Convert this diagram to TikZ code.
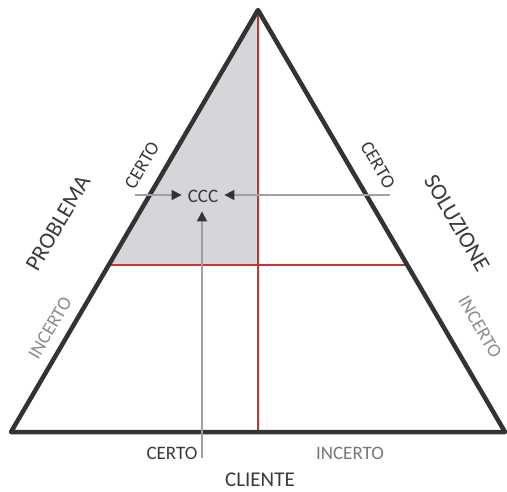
\documentclass[tikz,border=0pt]{standalone}
\usepackage{fontspec}
\setmainfont{Carlito}
\usetikzlibrary{arrows.meta}
\definecolor{edge}{HTML}{333333}
\definecolor{redl}{HTML}{C8342C}
\definecolor{graypatch}{HTML}{D5D6D9}
\definecolor{txt}{HTML}{3A3A3A}
\definecolor{ltxt}{HTML}{8C8C8C}
\definecolor{arr}{HTML}{A0A0A0}
\tikzset{
  lbl/.style={text=txt, font=\fontsize{19}{19}\selectfont, inner sep=0pt},
  llbl/.style={text=ltxt, font=\fontsize{19}{19}\selectfont, inner sep=0pt},
  title/.style={text=txt, font=\fontsize{23}{23}\selectfont, inner sep=0pt},
  conn/.style={draw=arr, line width=1.3pt, -{Triangle[length=10pt,width=10pt,color=edge]}},
}
\begin{document}
\begin{tikzpicture}[x=1pt,y=-1pt]
\useasboundingbox (0,0) rectangle (507,492);
\coordinate (A) at (258,10);
\coordinate (BL) at (11,432);
\coordinate (BR) at (505,432);
\coordinate (ML) at (109,265);
\coordinate (MR) at (407,265);
\coordinate (MC) at (258,265);
\coordinate (BC) at (258,432);
% shaded region
\fill[graypatch] (A) -- (MC) -- (ML) -- cycle;
% red lines
\draw[redl, line width=2pt] (A) -- (BC);
\draw[redl, line width=2pt] (ML) -- (MR);
% triangle
\draw[edge, line width=4.5pt, line join=round] (A) -- (BR) -- (BL) -- cycle;
% CCC and arrows
\node[text=txt, font=\fontsize{19}{19}\selectfont, inner xsep=6pt, inner ysep=9pt] (ccc) at (203,196) {CCC};
\coordinate (la) at (135,195);
\coordinate (ra) at (390,195);
\coordinate (ba) at (202,458);
\draw[conn] (la) -- (la -| ccc.west);
\draw[conn] (ra) -- (ra -| ccc.east);
\draw[conn] (ba) -- (ba |- ccc.south);
% side labels
\node[lbl, rotate=59.66] (lc) at (142,165) {CERTO};
\node[title, rotate=59.66] (pb) at (58,223) {PROBLEMA};
\node[llbl, rotate=59.66] (li) at (50,328) {INCERTO};
\node[lbl, rotate=-59.66] (rc) at (378,165) {CERTO};
\node[title, rotate=-59.66] (sl) at (457,223) {SOLUZIONE};
\node[llbl, rotate=-59.66] (ri) at (480,327) {INCERTO};
% bottom labels
\node[lbl] (bc) at (172,453) {CERTO};
\node[llbl, text=ltxt!85!black] (bi) at (350,453) {INCERTO};
\node[text=txt, font=\fontsize{21}{21}\selectfont, inner sep=0pt] (cl) at (260,480) {CLIENTE};
\end{tikzpicture}
\end{document}
